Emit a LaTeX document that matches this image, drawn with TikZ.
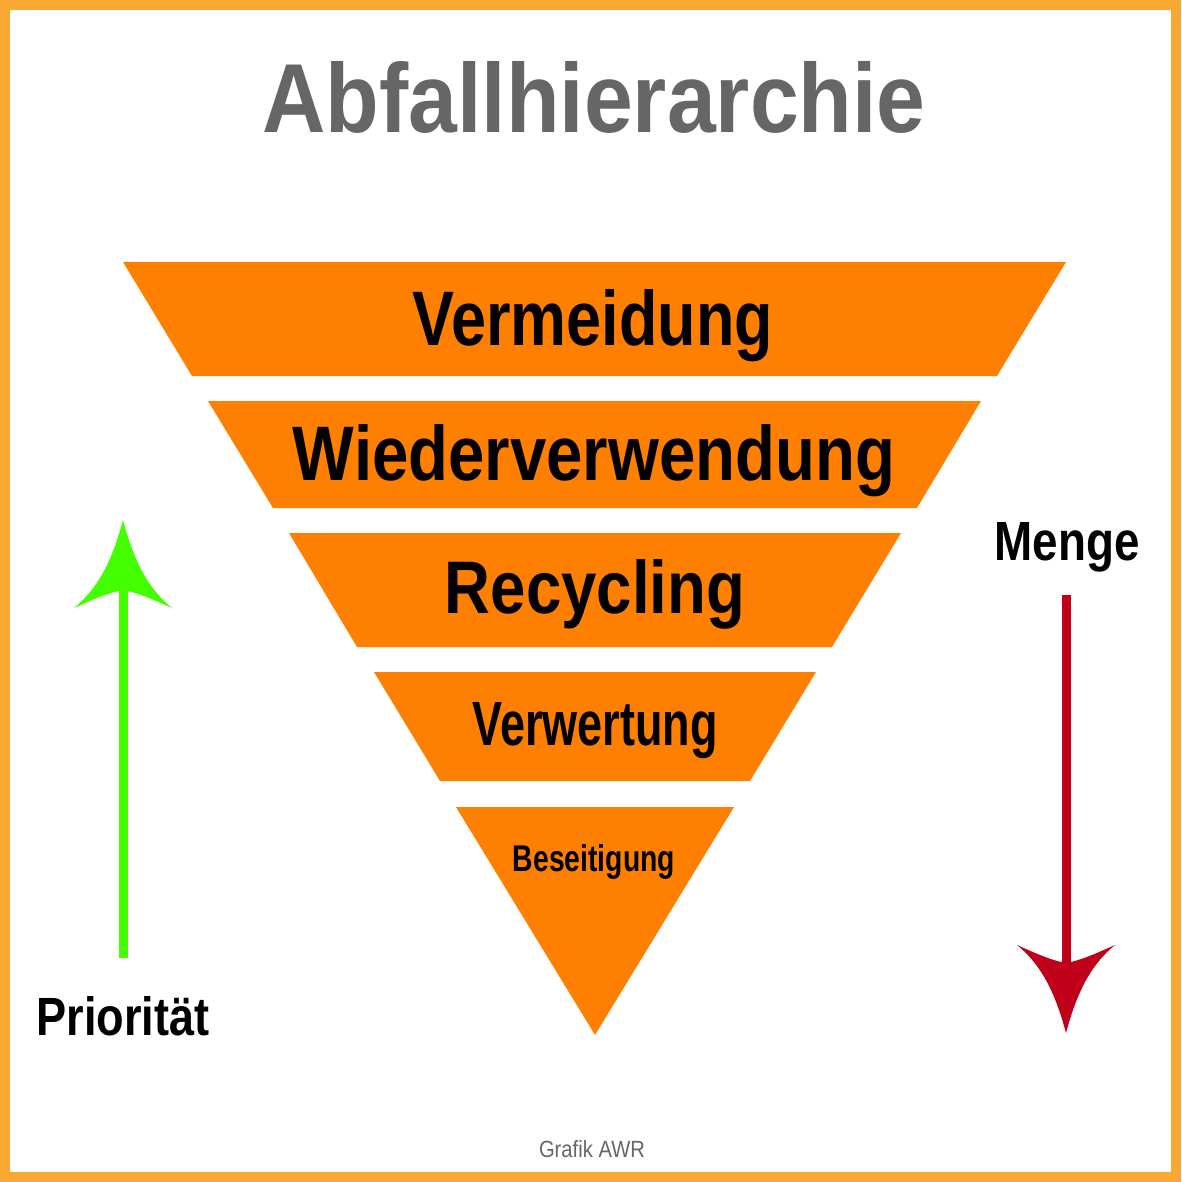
\documentclass[tikz,border=0pt]{standalone}
\usepackage{fontspec}
\setmainfont{Liberation Sans}
\usepackage{graphicx}
\definecolor{frame}{HTML}{F9A832}
\definecolor{org}{HTML}{FF8000}
\definecolor{grn}{HTML}{44FF00}
\definecolor{rd}{HTML}{C0001A}
\definecolor{ttl}{HTML}{666666}
\newcommand{\fitt}[3]{\resizebox{#1pt}{#2pt}{#3}}
\begin{document}
\begin{tikzpicture}[x=1pt,y=-1pt,
  lab/.style={anchor=base,inner sep=0pt,font=\bfseries},
  seg/.style={fill=org,draw=none}]
\useasboundingbox (0,0) rectangle (1181,1182);
\fill[white] (0,0) rectangle (1181,1182);
\draw[frame,line width=10pt] (5,5) rectangle (1176,1177);
\node[lab,text=ttl] (title) at (594,133) {\fitt{663}{71}{Abfallhierarchie}};
\fill[seg] (123,262) -- (1066,262) -- (997,376) -- (192,376) -- cycle;
\fill[seg] (208,401) -- (981,401) -- (917,508) -- (273,508) -- cycle;
\fill[seg] (289,533) -- (901,533) -- (832,647) -- (357,647) -- cycle;
\fill[seg] (374,672) -- (816,672) -- (750,781) -- (440,781) -- cycle;
\fill[seg] (456,807) -- (734,807) -- (595,1035) -- cycle;
\node[lab] (l1) at (593,345) {\fitt{360}{56}{Vermeidung}};
\node[lab] (l2) at (594,480) {\fitt{602}{56}{Wiederverwendung}};
\node[lab] (l3) at (595,613) {\fitt{300}{54}{Recycling}};
\node[lab] (l4) at (595,745) {\fitt{245}{43}{Verwertung}};
\node[lab] (l5) at (594,871) {\fitt{162}{27}{Beseitigung}};
\node[lab] (menge) at (1067,560) {\fitt{145}{38}{Menge}};
\node[lab] (prio) at (123,1035) {\fitt{173}{39}{Priorität}};
\node[anchor=base,inner sep=0pt,text=ttl] (grafik) at (592,1157) {\fitt{106}{17}{Grafik AWR}};
% green arrow
\fill[grn] (118.5,958) rectangle (127.5,585);
\fill[grn] (123,520) .. controls (135,565) and (150,590) .. (172,608)
  .. controls (150,598) and (135,592) .. (123,590)
  .. controls (111,592) and (96,598) .. (74,608)
  .. controls (96,590) and (111,565) .. (123,520) -- cycle;
% red arrow
\fill[rd] (1061.5,595) rectangle (1070.5,970);
\fill[rd] (1066,1033) .. controls (1078,988) and (1093,963) .. (1115,945)
  .. controls (1093,955) and (1078,961) .. (1066,963)
  .. controls (1054,961) and (1039,955) .. (1017,945)
  .. controls (1039,963) and (1054,988) .. (1066,1033) -- cycle;
\end{tikzpicture}
\end{document}
